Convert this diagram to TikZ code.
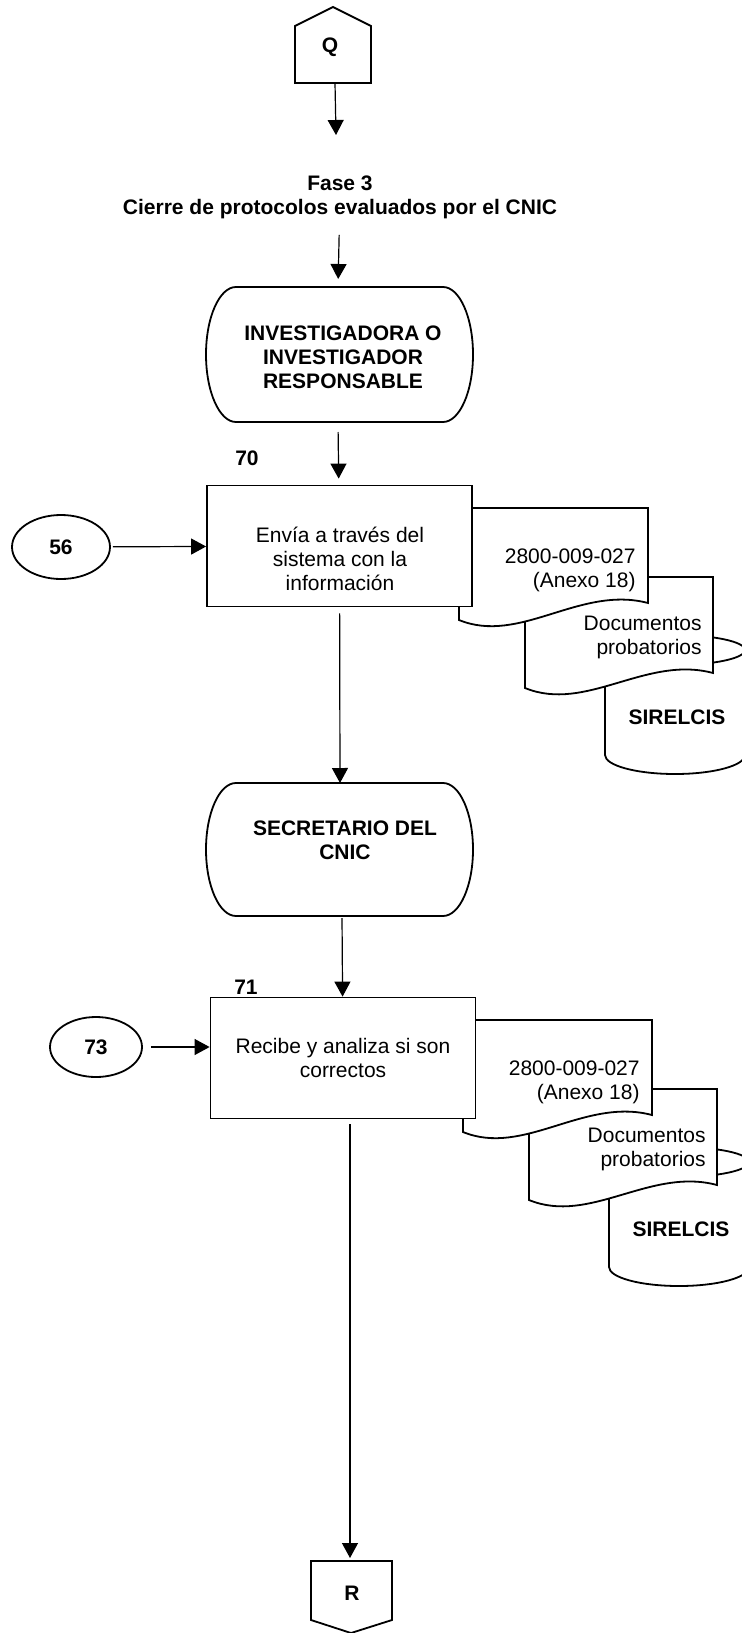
\documentclass[tikz,border=0pt]{standalone}
\usepackage{fontspec}
\setmainfont{Liberation Sans}
\usetikzlibrary{arrows.meta,shapes.geometric}
\tikzset{
    forma/.style={draw,line width=.9pt,fill=white},
    caja/.style={forma,minimum width=132.5pt,minimum height=60.5pt,align=center,inner sep=0},
    conector/.style={forma,ellipse,inner sep=0,font=\bfseries},
    flecha/.style={->,line width=.6pt},
    negrita/.style={font=\bfseries,align=center},
    nota/.style={anchor=east,align=right}
}
\newcommand{\pila}[2]{% documentos y base de datos, #1 desplazamiento, #2 sufijo
    \begin{scope}[shift={#1}]
        \draw[forma](605,650)--(605,755)arc[start angle=180,end angle=360,x radius=35pt,y radius=9.5pt]--(745,650)--cycle;
        \draw[forma](675,650)ellipse[x radius=35pt,y radius=7.5pt];
        \draw[forma](525,688)--(525,577)--(713,577)--(713,673).. controls (646,655) and (586,713) ..(525,688)--cycle;
        \draw[forma](459,620)--(459,508)--(648,508)--(648,603).. controls (580,585) and (520,645) ..(459,620)--cycle;
        \node[nota](anexo#2)at(643,570){2800-009-027\\(Anexo 18)};
        \node[nota](docs#2)at(709,637.5){Documentos\\probatorios};
        \node[negrita](sirelcis#2)at(677,717){SIRELCIS};
    \end{scope}}
\begin{document}
\fontsize{10.5}{12}\selectfont
\begin{tikzpicture}[x=.5pt,y=-.5pt,>={Triangle[width=8pt,length=7.5pt]}]
    \useasboundingbox(0,0)rectangle(741,1633);
    % conector de entrada Q
    \draw[forma](295,83)--(295,26)--(333,7)--(371,26)--(371,83)--cycle;
    \node[negrita](q)at(330,47){Q};
    \coordinate(qbase)at(335,83);
    \coordinate(qfin)at(336,135);
    \draw[flecha](qbase)--(qfin);
    \node[negrita](fase)at(340,197){Fase 3\\Cierre de protocolos evaluados por el CNIC};
    % investigadora o investigador
    \draw[forma](236,287)--(443,287)arc[start angle=90,end angle=-90,x radius=15pt,y radius=33.75pt]--(236,422)arc[start angle=270,end angle=90,x radius=15pt,y radius=33.75pt]--cycle;
    \node[negrita](t1)at(343,357){INVESTIGADORA O\\INVESTIGADOR\\RESPONSABLE};
    \coordinate(t1n)at(338,287);
    \coordinate(t1s)at(338,422);
    \draw[flecha,shorten <=4.5pt,shorten >=4pt](fase)--(t1n);
    % actividad 70
    \pila{(0,0)}{70}
    \node[caja](caja70)at(339.5,546){};
    \node[align=center](txt70)at(340,558.5){Envía a través del\\sistema con la\\información};
    \node[negrita](n70)at(247,458){70};
    \node[conector,minimum width=49pt,minimum height=32pt](c56)at(61,547){56};
    \draw[flecha,shorten <=5pt,shorten >=3pt](t1s)--(caja70);
    \draw[flecha,shorten <=1pt](c56)--(caja70);
    % secretario del CNIC
    \draw[forma](236,783)--(443,783)arc[start angle=90,end angle=-90,x radius=15pt,y radius=33.25pt]--(236,916)arc[start angle=270,end angle=90,x radius=15pt,y radius=33.25pt]--cycle;
    \node[negrita](t2)at(345,840){SECRETARIO DEL\\CNIC};
    \coordinate(t2n)at(340,783);
    \coordinate(t2s)at(342,916);
    \draw[flecha,shorten <=3pt](caja70)--(t2n);
    % actividad 71
    \pila{(4,512)}{71}
    \node[caja](caja71)at(343,1058){Recibe y analiza si son\\correctos};
    \node[negrita](n71)at(246,987){71};
    \node[conector,minimum width=46pt,minimum height=30pt](c73)at(96,1047){73};
    \draw[flecha,shorten <=1pt](t2s)--(caja71);
    \draw[flecha,shorten <=4pt](c73)--(c73-|caja71.west);
    % conector de salida R
    \draw[forma](311,1561)--(392,1561)--(392,1620)--(351,1633)--(311,1620)--cycle;
    \node[negrita](r)at(352,1593){R};
    \coordinate(rtecho)at(350,1561);
    \draw[flecha,shorten <=2.5pt,shorten >=1.5pt](caja71.south-|rtecho)--(rtecho);
\end{tikzpicture}
\end{document}
